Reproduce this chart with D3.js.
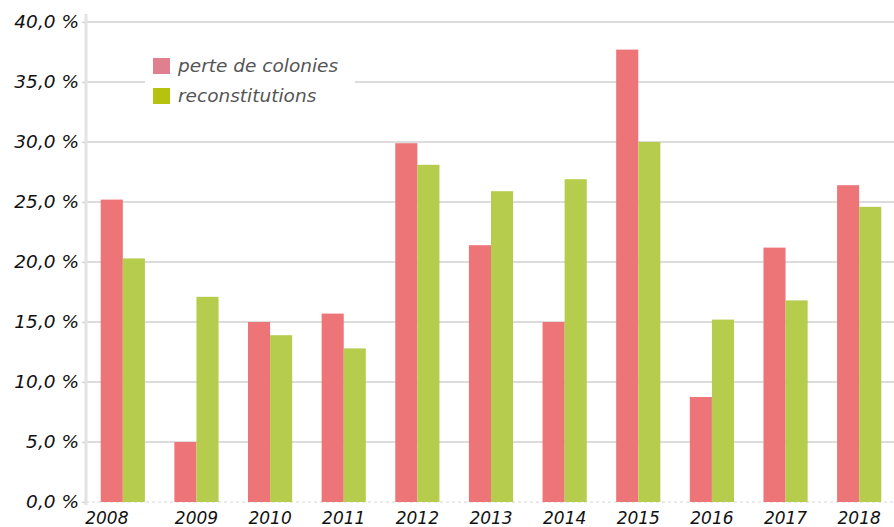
<!DOCTYPE html>
<html>
<head>
<meta charset="utf-8">
<script src="https://cdn.jsdelivr.net/npm/d3@7"></script>
<style>
  html, body { margin: 0; padding: 0; background: #fff; }
  svg text { font-family: "DejaVu Sans", sans-serif; font-style: italic; }
</style>
</head>
<body>
<svg id="chart" width="894" height="527"></svg>
<script>
// Years on the x axis
const years = ["2008", "2009", "2010", "2011", "2012", "2013", "2014", "2015", "2016", "2017", "2018"];
// Percentage of colonies lost over winter
const perteDeColonies = [25.2, 5.0, 15.0, 15.7, 29.9, 21.4, 15.0, 37.7, 8.75, 21.2, 26.4];
// Percentage of colonies rebuilt
const reconstitutions = [20.3, 17.1, 13.9, 12.8, 28.1, 25.9, 26.9, 30.0, 15.2, 16.8, 24.6];
// Series names and y ticks
const seriesNames = ["perte de colonies", "reconstitutions"];
const yTicks = [0, 5, 10, 15, 20, 25, 30, 35, 40];

const barColors = ["#ee7577", "#b6cc4c"];
const swatchColors = ["#e0808f", "#b5c30e"];

const svg = d3.select("#chart");
const W = 894;
const plotLeft = 86, plotTop = 22, plotBottom = 502;

const x = d3.scaleBand().domain(years).range([plotLeft, W + 2]).paddingInner(0.4).paddingOuter(0.2);
const xSub = d3.scaleBand().domain([0, 1]).range([0, x.bandwidth()]);
const y = d3.scaleLinear().domain([0, 40]).range([plotBottom, plotTop]);

const fmt = v => d3.format(".1f")(v).replace(".", ",") + " %";

// horizontal gridlines
svg.append("g").selectAll("line").data(yTicks.filter(t => t > 0)).join("line")
  .attr("x1", plotLeft).attr("x2", W)
  .attr("y1", d => y(d)).attr("y2", d => y(d))
  .attr("stroke", "#dcdcdc").attr("stroke-width", 2);

// baseline
svg.append("line").attr("x1", plotLeft).attr("x2", W).attr("y1", y(0)).attr("y2", y(0))
  .attr("stroke", "#e4e4e4").attr("stroke-width", 1.5).attr("stroke-dasharray", "3,3");

// vertical axis line
svg.append("line").attr("x1", plotLeft).attr("x2", plotLeft).attr("y1", plotTop - 8).attr("y2", plotBottom + 3)
  .attr("stroke", "#e2e2e2").attr("stroke-width", 3);

// y axis labels
const yAxis = d3.axisLeft(y).tickValues(yTicks).tickFormat(fmt).tickSize(3).tickPadding(3);
const gy = svg.append("g").attr("transform", `translate(${plotLeft - 1},0)`).call(yAxis);
gy.select(".domain").remove();
gy.selectAll(".tick line").attr("stroke", "#d6d6d6").attr("stroke-width", 1.5);
gy.selectAll(".tick text").attr("fill", "#111").style("font-size", "18.5px")
  .style("font-family", "'DejaVu Sans', sans-serif").style("font-style", "italic");

// bars
const series = [perteDeColonies, reconstitutions];
const groups = svg.append("g").selectAll("g").data(years).join("g")
  .attr("transform", d => `translate(${x(d)},0)`);
groups.selectAll("rect").data((d, i) => series.map((s, k) => ({ k, v: s[i] }))).join("rect")
  .attr("x", d => xSub(d.k)).attr("width", xSub.bandwidth())
  .attr("y", d => y(d.v)).attr("height", d => y(0) - y(d.v))
  .attr("fill", d => barColors[d.k]);

// x axis labels
const xAxis = d3.axisBottom(x).tickSize(0).tickPadding(10);
const gx = svg.append("g").attr("transform", `translate(0,${plotBottom})`).call(xAxis);
gx.select(".domain").remove();
gx.selectAll(".tick text").attr("fill", "#111").style("font-size", "17px")
  .style("font-family", "'DejaVu Sans', sans-serif").style("font-style", "italic")
  .attr("dx", (d, i) => i === 0 ? -16 : 0);

// legend on a white panel
const legend = svg.append("g").attr("transform", "translate(153,58)");
legend.append("rect").attr("x", -8).attr("y", -8).attr("width", 210).attr("height", 62).attr("fill", "#fff");
const item = legend.selectAll("g.item").data(seriesNames).join("g").attr("class", "item")
  .attr("transform", (d, i) => `translate(0,${i * 30})`);
item.append("rect").attr("width", 17).attr("height", 16).attr("fill", (d, i) => swatchColors[i]);
item.append("text").attr("x", 25).attr("y", 14).text(d => d)
  .attr("fill", "#555").style("font-size", "18.5px");
</script>
</body>
</html>
